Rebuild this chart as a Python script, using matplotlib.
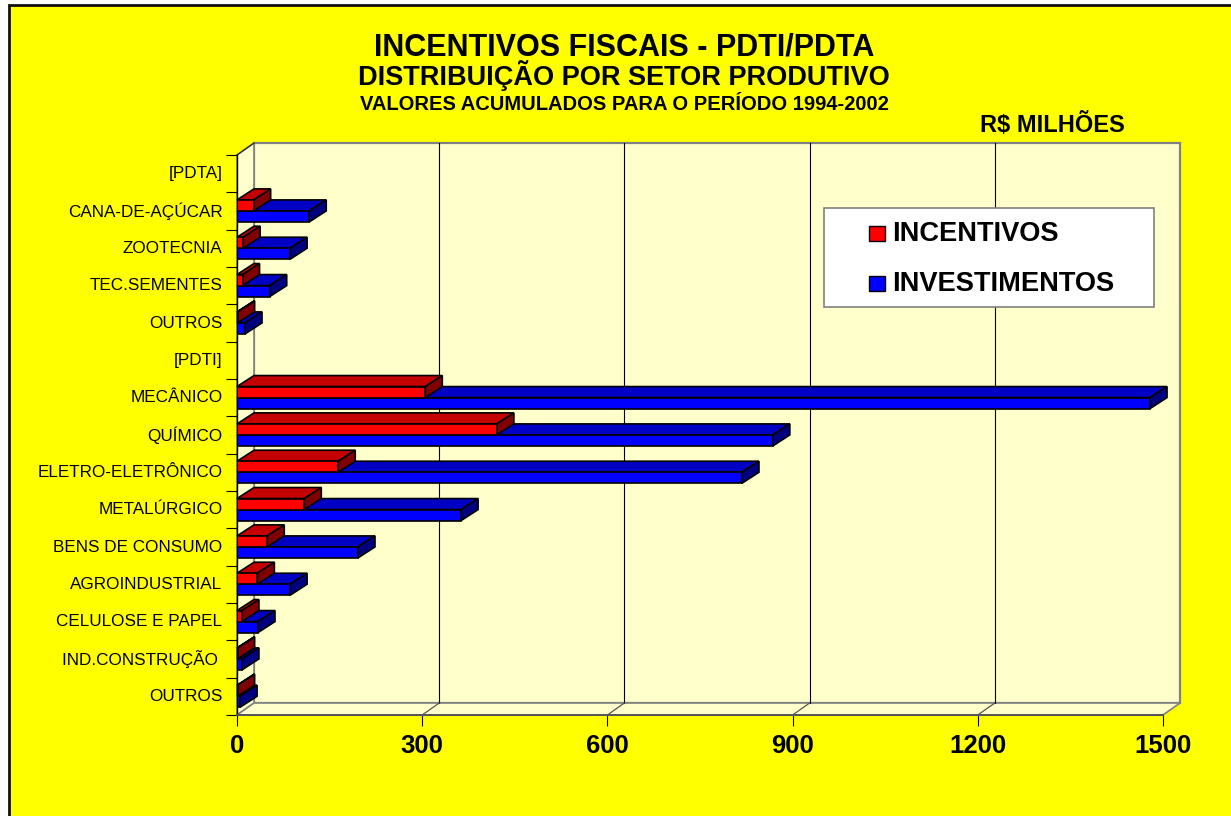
import matplotlib
matplotlib.use("Agg")
import matplotlib.pyplot as plt
from matplotlib.patches import Polygon, Rectangle

plt.rcParams["font.family"] = "Liberation Sans"

# ================= Data ==================
categories = ["[PDTA]", "CANA-DE-AÇÚCAR", "ZOOTECNIA", "TEC.SEMENTES", "OUTROS", "[PDTI]",
              "MECÂNICO", "QUÍMICO", "ELETRO-ELETRÔNICO", "METALÚRGICO", "BENS DE CONSUMO",
              "AGROINDUSTRIAL", "CELULOSE E PAPEL", "IND.CONSTRUÇÃO ", "OUTROS"]
incentivos = [0, 27, 10, 9, 1, 0, 305, 421, 164, 109, 49, 33, 8, 1, 1]
investimentos = [0, 117, 86, 53, 13, 0, 1479, 868, 818, 363, 196, 86, 34, 8, 5]
x_ticks = [0, 300, 600, 900, 1200, 1500]

WALL = "#FFFFCC"
GREY = "#808080"
W, H = 1231, 816


def fx(px):
    return px / W


def fy(px):
    return 1 - px / H


# ================= Figure ==================
fig = plt.figure(figsize=(W / 100, H / 100), dpi=100, facecolor="white")
fig.patches.append(Rectangle((fx(8.5), fy(H + 20)), fx(W + 20), (H + 14.5) / H, transform=fig.transFigure,
                             facecolor="#FFFF00", edgecolor="#111111", linewidth=2, zorder=-1))

ax = fig.add_axes([fx(237), fy(715), 926 / W, 560 / H], facecolor="none")
ax.set_xlim(0, 1500)
ax.set_ylim(15, 0)

# depth of the fake 3d box, in data units
wall_dx = 1500 * 17 / 926
wall_dy = 15 * 12 / 560
bar_dx = 1500 * 17 / 926
bar_dy = 15 * 11 / 560

# walls and floor
ax.add_patch(Polygon([(wall_dx, -wall_dy), (1500 + wall_dx, -wall_dy), (1500 + wall_dx, 15 - wall_dy), (wall_dx, 15 - wall_dy)],
                     closed=True, facecolor=WALL, edgecolor=GREY, linewidth=1.6, clip_on=False, zorder=1))
ax.add_patch(Polygon([(0, 0), (wall_dx, -wall_dy), (wall_dx, 15 - wall_dy), (0, 15)],
                     closed=True, facecolor=WALL, edgecolor=GREY, linewidth=1.2, clip_on=False, zorder=1))
ax.add_patch(Polygon([(0, 15), (wall_dx, 15 - wall_dy), (1500 + wall_dx, 15 - wall_dy), (1500, 15)],
                     closed=True, facecolor=WALL, edgecolor=GREY, linewidth=1.2, clip_on=False, zorder=1))
ax.plot([0, wall_dx], [0, -wall_dy], color="#222222", linewidth=0.8, clip_on=False, zorder=1.5)

# gridlines
for v in x_ticks[1:-1]:
    ax.plot([v + wall_dx, v + wall_dx], [-wall_dy, 15 - wall_dy], color="black", linewidth=0.8, clip_on=False, zorder=1.5)
    ax.plot([v, v + wall_dx], [15, 15 - wall_dy], color="#555555", linewidth=0.9, clip_on=False, zorder=1.5)


# ================= Bars ==================
def bars_3d(values, offset, height, front, top, side, z):
    for i, v in enumerate(values):
        if v <= 0:
            continue
        y0 = i + offset - height / 2
        y1 = i + offset + height / 2
        ax.add_patch(Polygon([(0, y0), (bar_dx, y0 - bar_dy), (v + bar_dx, y0 - bar_dy), (v, y0)],
                             closed=True, facecolor=top, edgecolor="black", linewidth=1.2, clip_on=False, zorder=z))
        ax.add_patch(Polygon([(v, y0), (v + bar_dx, y0 - bar_dy), (v + bar_dx, y1 - bar_dy), (v, y1)],
                             closed=True, facecolor=side, edgecolor="black", linewidth=1.2, clip_on=False, zorder=z))
        ax.barh(i + offset, v, height=height, color=front, edgecolor="black", linewidth=1.2, zorder=z + 0.1)


bars_3d(investimentos, 0.645, 0.295, "#0000FF", "#0000C4", "#000080", 3)
bars_3d(incentivos, 0.35, 0.295, "#FF0000", "#C40000", "#800000", 4)

# ================= Axes ==================
ax.set_xlim(0, 1500)
ax.set_ylim(15, 0)
for s in ["top", "right"]:
    ax.spines[s].set_visible(False)
ax.spines["left"].set_linewidth(1)
ax.spines["left"].set_zorder(2)
ax.spines["bottom"].set_color("#555555")
ax.spines["bottom"].set_linewidth(1.4)
ax.spines["bottom"].set_zorder(2)

ax.set_xticks(x_ticks)
ax.set_xticklabels([str(v) for v in x_ticks], fontsize=18.5, fontweight="bold")
ax.tick_params(axis="x", length=8, width=0.8, pad=6)
ax.set_yticks(range(16))
ax.set_yticklabels([])
ax.tick_params(axis="y", which="major", length=8, width=0.8)
ax.set_yticks([i + 0.46 for i in range(15)], categories, minor=True)
ax.tick_params(axis="y", which="minor", length=0, pad=10.5, labelsize=12.3)

# ================= Titles ==================
fig.text(fx(624), fy(55), "INCENTIVOS FISCAIS - PDTI/PDTA", ha="center", va="baseline", fontsize=22, fontweight="bold")
fig.text(fx(624), fy(85), "DISTRIBUIÇÃO POR SETOR PRODUTIVO", ha="center", va="baseline", fontsize=19.5, fontweight="bold")
fig.text(fx(624), fy(110), "VALORES ACUMULADOS PARA O PERÍODO 1994-2002", ha="center", va="baseline", fontsize=14.5, fontweight="bold")
fig.text(fx(1125), fy(125), "R$ MILHÕES", ha="right", va="center", fontsize=17, fontweight="bold")

# ================= Legend ==================
fig.patches.append(Rectangle((fx(824), fy(307)), 330 / W, 99 / H, transform=fig.transFigure,
                             facecolor="white", edgecolor=GREY, linewidth=1.2, zorder=5))
fig.patches.append(Rectangle((fx(869), fy(241)), 16 / W, 15 / H, transform=fig.transFigure,
                             facecolor="#FF0000", edgecolor="black", linewidth=1, zorder=6))
fig.patches.append(Rectangle((fx(869), fy(291)), 16 / W, 15 / H, transform=fig.transFigure,
                             facecolor="#0000FF", edgecolor="black", linewidth=1, zorder=6))
fig.text(fx(892), fy(234), "INCENTIVOS", ha="left", va="center", fontsize=19.6, fontweight="bold", zorder=7)
fig.text(fx(892), fy(284), "INVESTIMENTOS", ha="left", va="center", fontsize=19.6, fontweight="bold", zorder=7)

fig.savefig("out.png", dpi=100, facecolor=fig.get_facecolor())
